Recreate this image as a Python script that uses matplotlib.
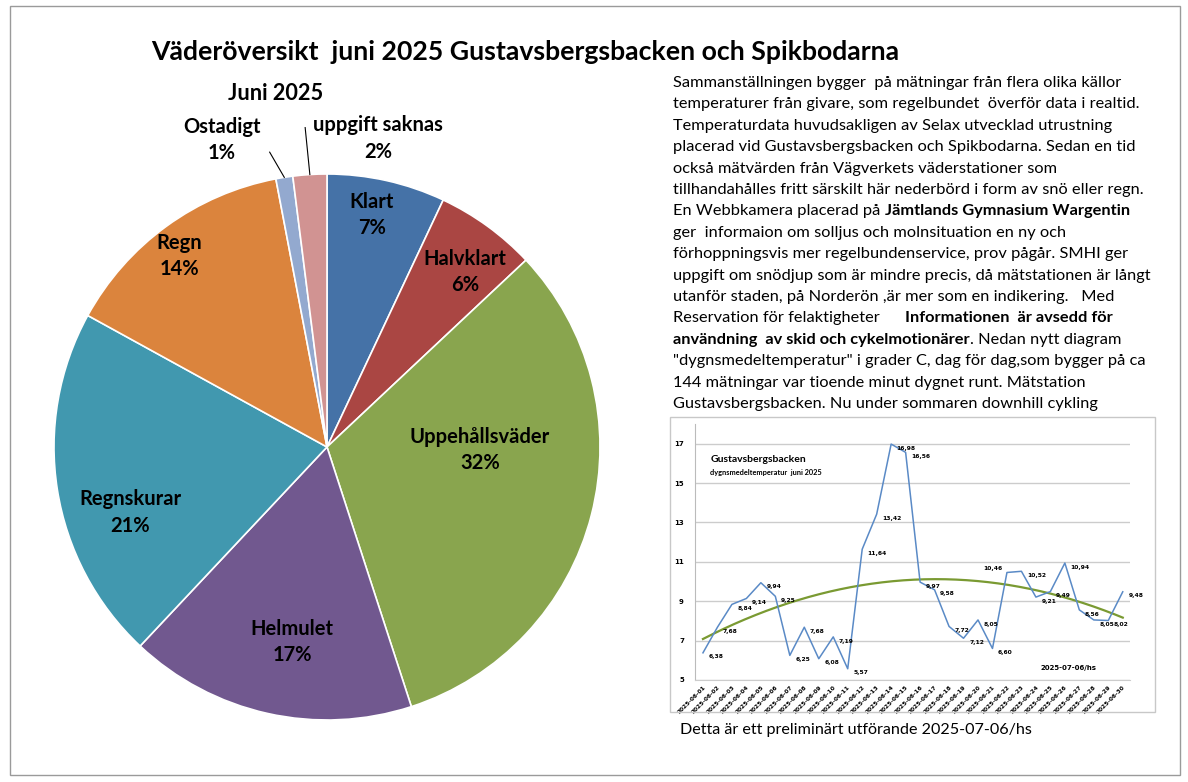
import numpy as np
import matplotlib.pyplot as plt
from matplotlib import font_manager
from matplotlib.patches import Rectangle
from matplotlib.lines import Line2D

W, H = 1188, 782

# pie data
pie_labels = ['Klart', 'Halvklart', 'Uppehållsväder', 'Helmulet', 'Regnskurar', 'Regn', 'Ostadigt', 'uppgift saknas']
pie_values = [7, 6, 32, 17, 21, 14, 1, 2]
pie_colors = ['#4572A7', '#AA4643', '#89A54E', '#71588F', '#4198AF', '#DB843D', '#93A9CF', '#D19392']

# daily mean temperature, June 2025
days = [f'2025-06-{d:02d}' for d in range(1, 31)]
temps = [6.38, 7.68, 8.84, 9.14, 9.94, 9.25, 6.25, 7.68, 6.08, 7.19, 5.57, 11.64, 13.42, 16.98, 16.56,
         9.97, 9.58, 7.72, 7.12, 8.05, 6.60, 10.46, 10.52, 9.21, 9.49, 10.94, 8.56, 8.05, 8.02, 9.48]

text_lines = [
    [("Sammanställningen bygger  på mätningar från flera olika källor", False)],
    [("temperaturer från givare, som regelbundet  överför data i realtid.", False)],
    [("Temperaturdata huvudsakligen av Selax utvecklad utrustning", False)],
    [("placerad vid Gustavsbergsbacken och Spikbodarna. Sedan en tid", False)],
    [("också mätvärden från Vägverkets väderstationer som", False)],
    [("tillhandahålles fritt särskilt här nederbörd i form av snö eller regn.", False)],
    [("En Webbkamera placerad på", False), ("Jämtlands Gymnasium Wargentin", True)],
    [("ger  informaion om solljus och molnsituation en ny och", False)],
    [("förhoppningsvis mer regelbundenservice, prov pågår. SMHI ger", False)],
    [("uppgift om snödjup som är mindre precis, då mätstationen är långt", False)],
    [("utanför staden, på Norderön ,är mer som en indikering.   Med", False)],
    [("Reservation för felaktigheter", False), ("Informationen  är avsedd för", True)],
    [("användning  av skid och cykelmotionärer", True), (". Nedan nytt diagram", False)],
    [('"dygnsmedeltemperatur" i grader C, dag för dag,som bygger på ca', False)],
    [("144 mätningar var tioende minut dygnet runt. Mätstation", False)],
    [("Gustavsbergsbacken. Nu under sommaren downhill cykling", False)],
]


def fx(x):
    return x / W


def fy(y):
    return 1 - y / H


names = {f.name for f in font_manager.fontManager.ttflist}
fam = 'Lato' if 'Lato' in names else 'DejaVu Sans'
title_fam = 'Liberation Sans Narrow' if 'Liberation Sans Narrow' in names else fam

fig = plt.figure(figsize=(W / 100, H / 100), dpi=100)
fig.canvas.draw()
r = fig.canvas.get_renderer()


def text_w(s, size, **kw):
    t = fig.text(0, 0, s, fontsize=size, **kw)
    w = t.get_window_extent(renderer=r).width
    t.remove()
    return w


def fit(s, width, **kw):
    return 10 * width / text_w(s, 10, **kw)


# frames
fig.add_artist(Rectangle((fx(10), fy(775)), 1170 / W, 769 / H, transform=fig.transFigure,
                         fill=False, ec='#9A9A9A', lw=1))

# titles
ts = fit("Väderöversikt  juni 2025 Gustavsbergsbacken och Spikbodarna", 750, family=title_fam, fontweight='bold')
fig.text(fx(525), fy(52), "Väderöversikt  juni 2025 Gustavsbergsbacken och Spikbodarna",
         family=title_fam, fontweight='bold', fontsize=ts, ha='center', va='center')
fig.text(fx(276), fy(93), "Juni 2025", family=fam, fontweight='bold', fontsize=ts * 0.82,
         ha='center', va='center')

# pie
cx, cy, R = 327, 447, 273
ax_pie = fig.add_axes([fx(cx - R), fy(cy + R), 2 * R / W, 2 * R / H])
wedges, _ = ax_pie.pie(pie_values, colors=pie_colors, startangle=90, counterclock=False,
                       wedgeprops=dict(edgecolor='white', linewidth=1.2))
ax_pie.set_xlim(-1, 1)
ax_pie.set_ylim(-1, 1)

label_pos = [(0.165, 0.85), (0.505, 0.64), (0.56, -0.01), (-0.128, -0.714),
             (-0.72, -0.24), (-0.54, 0.70), (-0.385, 1.125), (0.187, 1.13)]
ps = fit("Uppehållsväder", 140, family=fam, fontweight='bold')
for lab, v, (px, py) in zip(pie_labels, pie_values, label_pos):
    ax_pie.text(px, py, f"{lab}\n{v}%", ha='center', va='center', fontsize=ps,
                fontweight='bold', family=fam, linespacing=1.4, clip_on=False)

# leader lines for the small slices
for w, (lx, ly) in zip(wedges[6:], [(-0.21, 1.08), (-0.08, 1.17)]):
    ang = np.deg2rad((w.theta1 + w.theta2) / 2)
    ax_pie.add_line(Line2D([lx, np.cos(ang)], [ly, np.sin(ang)], color='black',
                           lw=0.8, clip_on=False))

# text block
fs = fit(text_lines[0][0][0], 444, family=fam)
space = text_w("a a", fs, family=fam) - text_w("aa", fs, family=fam)
for i, segs in enumerate(text_lines):
    y = 83 + i * 21.4
    x = 673
    for j, (s, bold) in enumerate(segs):
        wt = 'bold' if bold else 'normal'
        if i == 11 and j == 1:
            x = 905
        fig.text(fx(x), fy(y), s, family=fam, fontsize=fs, fontweight=wt, va='center')
        x += text_w(s, fs, family=fam, fontweight=wt)
        if not (i == 12 and j == 0):
            x += space

# inset line chart
fig.add_artist(Rectangle((fx(670), fy(712)), 485 / W, 295 / H, transform=fig.transFigure,
                         fill=False, ec='#C8C8C8', lw=1))
ax = fig.add_axes([fx(695), fy(680), 435 / W, 256 / H])
x = np.arange(1, 31)
ax.plot(x, temps, color='#5A8AC6', lw=1.1, zorder=3)
coef = np.polyfit(x, temps, 2)
xs = np.linspace(1, 30, 200)
ax.plot(xs, np.polyval(coef, xs), color='#7A9A32', lw=1.6, zorder=2)
ax.set_xlim(0.45, 30.5)
ax.set_ylim(5, 18)
ax.set_yticks([5, 7, 9, 11, 13, 15, 17])
ax.yaxis.grid(True, color='#CCCCCC', lw=1)
ax.set_axisbelow(True)
for sp in ['top', 'right']:
    ax.spines[sp].set_visible(False)
ax.spines['left'].set_color('#BBBBBB')
ax.spines['bottom'].set_color('#CCCCCC')
ax.tick_params(length=0, labelsize=5, pad=8)
for t in ax.get_yticklabels():
    t.set_fontweight('bold')
ax.set_xticks(x)
ax.set_xticklabels(days, rotation=45, ha='right', rotation_mode='anchor', fontsize=4.2,
                   fontweight='bold')
ax.tick_params(axis='x', pad=3)
for xi, ti in zip(x, temps):
    if xi == 22:
        off, ha = (-3, 3), 'right'
    else:
        off, ha = (4, -3), 'left'
    ax.annotate(f"{ti:.2f}".replace('.', ','), (xi, ti), xytext=off, textcoords='offset points',
                fontsize=4.3, fontweight='bold', va='center', ha=ha)
ax.text(0.035, 0.86, "Gustavsbergsbacken", transform=ax.transAxes, fontsize=7.5,
        fontweight='bold', family=fam, va='center')
ax.text(0.035, 0.81, "dygnsmedeltemperatur  juni 2025", transform=ax.transAxes, fontsize=5.3,
        fontweight='bold', family=fam, va='center')
ax.text(0.795, 0.047, "2025-07-06/hs", transform=ax.transAxes, fontsize=5,
        fontweight='bold', va='center')

fig.text(fx(680), fy(730), "Detta är ett preliminärt utförande 2025-07-06/hs", family=fam,
         fontsize=fit("Detta är ett preliminärt utförande 2025-07-06/hs", 352, family=fam), va='center')

fig.savefig('out.png', dpi=100)
